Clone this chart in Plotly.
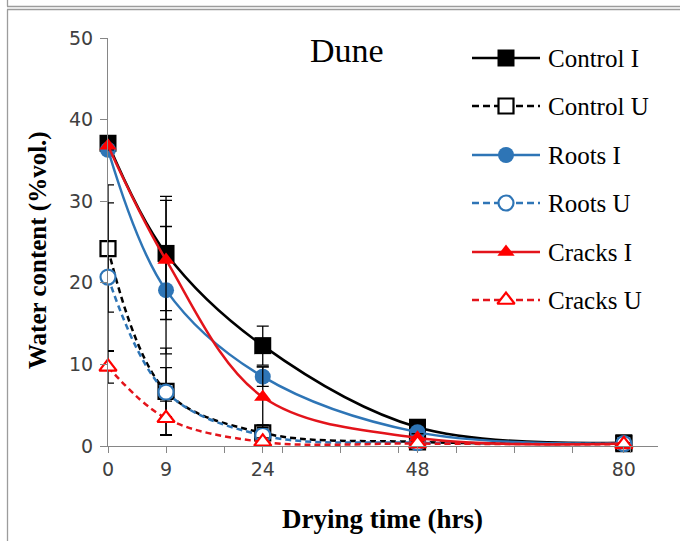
import plotly.graph_objects as go

# Drying time (hours) and measured water content (%vol.)
hours = [0, 9, 24, 48, 80]
hour_labels = ["0", "9", "24", "48", "80"]

control_i = [37.1, 23.6, 12.3, 2.3, 0.4]
control_u = [24.2, 6.7, 1.6, 0.5, 0.3]
roots_i = [36.3, 19.1, 8.5, 1.7, 0.3]
roots_u = [20.7, 6.6, 1.3, 0.4, 0.3]
cracks_i = [36.8, 22.8, 6.0, 1.0, 0.3]
cracks_u = [9.7, 3.4, 0.5, 0.3, 0.2]

# Standard deviations
control_i_err = [0.6, 7.0, 2.4, 0.4, 0.1]
control_u_err = [7.8, 5.3, 1.0, 0.2, 0.1]
roots_i_err = [0.5, 7.8, 1.2, 0.3, 0.1]
roots_u_err = [9.1, 3.0, 0.8, 0.2, 0.1]
cracks_i_err = [0.5, 7.3, 3.7, 0.5, 0.1]
cracks_u_err = [2.0, 2.1, 0.5, 0.2, 0.1]

series_names = ["Control I", "Control U", "Roots I", "Roots U", "Cracks I", "Cracks U"]

W, H = 680, 541
L, R, T, B = 108, 658, 38, 446  # plot area in pixels

BLACK = "#000000"
BLUE = "#2E75B6"
RED = "#FF0000"
RED_LINE = "#E3141B"

styles = {
    "Control I": dict(color=BLACK, line=BLACK, dash="solid", symbol="square", size=17, open=False),
    "Control U": dict(color=BLACK, line=BLACK, dash="6px,4px", symbol="square-open", size=15, open=True),
    "Roots I": dict(color=BLUE, line=BLUE, dash="solid", symbol="circle", size=16, open=False),
    "Roots U": dict(color=BLUE, line=BLUE, dash="6px,4px", symbol="circle-open", size=15, open=True),
    "Cracks I": dict(color=RED, line=RED_LINE, dash="solid", symbol="triangle-up", size=15, open=False),
    "Cracks U": dict(color=RED, line=RED_LINE, dash="6px,4px", symbol="triangle-up-open", size=15, open=True),
}

values = dict(zip(series_names, [control_i, control_u, roots_i, roots_u, cracks_i, cracks_u]))
errors = dict(zip(series_names, [control_i_err, control_u_err, roots_i_err, roots_u_err,
                                 cracks_i_err, cracks_u_err]))


def marker_for(st):
    if st["open"]:
        return dict(symbol=st["symbol"].replace("-open", ""), size=st["size"], color="white",
                    line=dict(color=st["color"], width=2.2))
    return dict(symbol=st["symbol"], size=st["size"], color=st["color"],
                line=dict(color=st["color"], width=0))


fig = go.Figure()

for name in series_names:
    st = styles[name]
    fig.add_trace(go.Scatter(
        x=hours, y=values[name], name=name, mode="lines+markers",
        line=dict(color=st["line"], width=2.5, dash=st["dash"], shape="spline", smoothing=1.0),
        marker=marker_for(st),
        error_y=dict(type="data", array=errors[name], visible=True,
                     color="#000000", thickness=1.3, width=6),
        cliponaxis=False,
        showlegend=False,
    ))

# Legend drawn on a pixel-scaled overlay axis pair
legend_rows = [58, 106, 155, 203, 252, 300]
for name, yrow in zip(series_names, legend_rows):
    st = styles[name]
    fig.add_trace(go.Scatter(
        x=[472, 540], y=[yrow, yrow], mode="lines", xaxis="x3", yaxis="y3",
        line=dict(color=st["line"], width=2.5, dash=st["dash"].replace("6px,4px", "7px,4px")),
        showlegend=False, hoverinfo="skip",
    ))
    fig.add_trace(go.Scatter(
        x=[506], y=[yrow], mode="markers", xaxis="x3", yaxis="y3",
        marker=marker_for(st), showlegend=False, hoverinfo="skip",
    ))


def px_x(px):
    return (px - L) / (R - L)


def px_y(py):
    return (B - py) / (B - T)


annotations = []
for name, yrow in zip(series_names, legend_rows):
    annotations.append(dict(
        x=546, y=yrow, xref="x3", yref="y3", text=name, showarrow=False,
        xanchor="left", yanchor="middle",
        font=dict(family="Liberation Serif", size=25, color="#000000"),
    ))

annotations.append(dict(
    x=px_x(347), y=px_y(50), xref="paper", yref="paper", text="Dune", showarrow=False,
    xanchor="center", yanchor="middle",
    font=dict(family="Liberation Serif", size=34, color="#000000"),
))
annotations.append(dict(
    x=px_x(382), y=px_y(519), xref="paper", yref="paper", text="<b>Drying time (hrs)</b>",
    showarrow=False, xanchor="center", yanchor="middle",
    font=dict(family="Liberation Serif", size=27, color="#000000"),
))
annotations.append(dict(
    x=px_x(38), y=px_y(250), xref="paper", yref="paper", text="<b>Water content (%vol.)</b>",
    showarrow=False, xanchor="center", yanchor="middle", textangle=-90,
    font=dict(family="Liberation Serif", size=25, color="#000000"),
))
# axis title of the panel above, only its lowest strokes stay inside the page
annotations.append(dict(
    x=px_x(382), y=px_y(1), xref="paper", yref="paper", text="<b>Drying time (hrs)</b>",
    showarrow=False, xanchor="center", yanchor="bottom",
    font=dict(family="Liberation Serif", size=27, color="#000000"),
))

FRAME = "#9c9c9c"
shapes = [
    dict(type="line", xref="paper", yref="paper", x0=px_x(7), x1=px_x(W + 5),
         y0=px_y(6.5), y1=px_y(6.5), line=dict(color=FRAME, width=1.3)),
    dict(type="line", xref="paper", yref="paper", x0=px_x(7), x1=px_x(W + 5),
         y0=px_y(9.5), y1=px_y(9.5), line=dict(color=FRAME, width=1.3)),
    dict(type="line", xref="paper", yref="paper", x0=px_x(7.5), x1=px_x(7.5),
         y0=px_y(-5), y1=px_y(6.5), line=dict(color=FRAME, width=1.3)),
    dict(type="line", xref="paper", yref="paper", x0=px_x(7.5), x1=px_x(7.5),
         y0=px_y(9.5), y1=px_y(H + 5), line=dict(color=FRAME, width=1.3)),
]

AXIS = "#868686"
TICKFONT = dict(family="DejaVu Sans", size=19, color="#404040")

fig.update_layout(
    width=W, height=H,
    margin=dict(l=L, r=W - R, t=T, b=H - B, pad=0),
    paper_bgcolor="white", plot_bgcolor="white",
    xaxis=dict(
        range=[0, 85.3], tickmode="array", tickvals=hours, ticktext=hour_labels,
        ticks="outside", ticklen=6, tickcolor=AXIS, tickwidth=1,
        minor=dict(ticks="outside", tick0=0, dtick=9, ticklen=6, tickcolor=AXIS, tickwidth=1),
        showline=True, linecolor=AXIS, linewidth=1, showgrid=False, zeroline=False,
        tickfont=TICKFONT,
    ),
    yaxis=dict(
        range=[0, 50], tickmode="linear", tick0=0, dtick=10,
        ticks="outside", ticklen=7, tickcolor=AXIS, tickwidth=1,
        showline=True, linecolor=AXIS, linewidth=1, showgrid=False, zeroline=False,
        tickfont=TICKFONT, ticklabelstandoff=3,
    ),
    xaxis3=dict(range=[L, R], overlaying="x", anchor="y3", visible=False, fixedrange=True),
    yaxis3=dict(range=[B, T], overlaying="y", anchor="x3", visible=False, fixedrange=True),
    annotations=annotations,
    shapes=shapes,
)

fig.write_html("out.html")
